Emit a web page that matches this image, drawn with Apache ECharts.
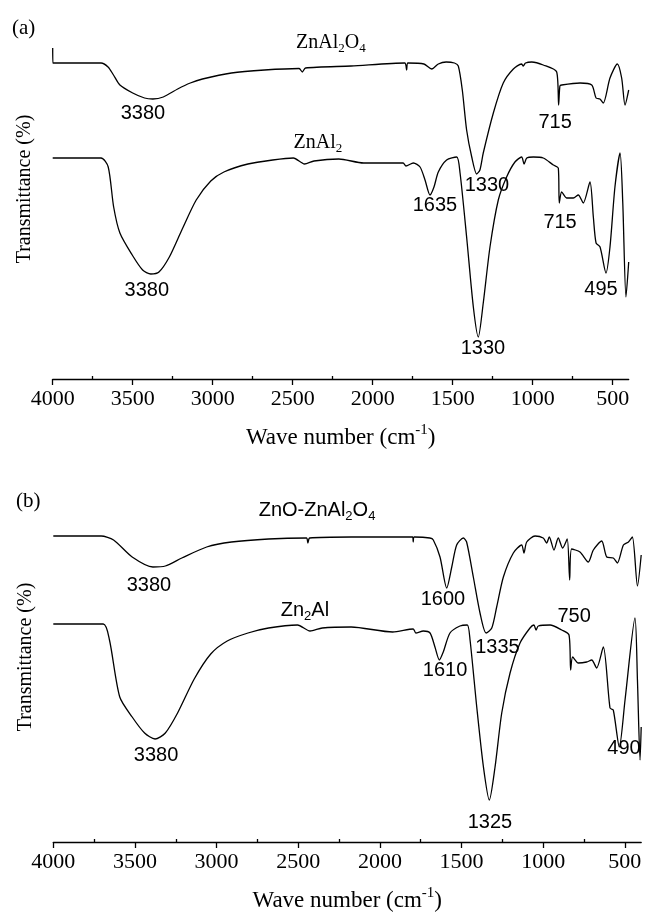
<!DOCTYPE html>
<html>
<head>
<meta charset="utf-8">
<script src="https://cdn.jsdelivr.net/npm/echarts@6/dist/echarts.min.js"></script>
<style>
  html, body { margin: 0; padding: 0; background: #fff; }
  #chart { width: 646px; height: 914px; }
</style>
</head>
<body>
<div id="chart"></div>
<script>
// FTIR spectra: wave number (cm-1) vs transmittance (arbitrary units, no scale shown)
const majorTicks = [4000, 3500, 3000, 2500, 2000, 1500, 1000, 500];
const minorTicks = [3750, 3250, 2750, 2250, 1750, 1250, 750];

// panel (a)
const znAl2O4 = [
    [4000, 331], [3999, 316], [3800, 316], [3698, 316], [3654, 312], [3620, 304], [3580, 294],
    [3500, 286], [3426, 281], [3374, 280], [3309, 282], [3219, 290], [3140, 296], [3064, 300],
    [2883, 306], [2676, 309], [2460, 310.5], [2440, 307], [2420, 311], [2135, 313], [1800, 316],
    [1788, 309], [1780, 316], [1680, 315], [1631, 310], [1590, 315], [1541, 317], [1489, 316],
    [1465, 313], [1440, 289], [1413, 249], [1381, 222], [1350, 205], [1330, 209], [1309, 226],
    [1246, 266], [1184, 296], [1121, 310], [1070, 315], [1059, 313], [1045, 316], [1006, 317],
    [934, 314], [850, 307], [838, 274], [830, 293], [819, 294], [704, 296], [631, 294],
    [604, 281], [580, 280], [559, 276], [517, 301], [471, 315], [444, 301], [423, 274], [400, 289]
];
const znAl2 = [
    [4000, 221], [3698, 221], [3653, 212], [3619, 172], [3580, 146], [3503, 124], [3438, 109],
    [3387, 105], [3336, 107], [3271, 122], [3193, 149], [3103, 179], [3012, 198], [2930, 207],
    [2780, 215], [2625, 219], [2496, 221], [2426, 215], [2367, 218], [2212, 220], [2057, 216],
    [1810, 216], [1792, 213], [1746, 216], [1704, 212], [1673, 199], [1642, 184], [1617, 192],
    [1590, 207], [1538, 219], [1475, 222], [1454, 206], [1413, 142], [1371, 72], [1340, 42],
    [1309, 76], [1267, 132], [1215, 179], [1163, 202], [1111, 217], [1069, 222], [1054, 215],
    [1037, 221], [996, 222], [934, 221], [871, 214], [840, 211], [834, 176], [819, 187],
    [788, 181], [746, 181], [715, 184], [684, 176], [642, 197], [621, 162], [604, 136],
    [579, 132], [542, 106], [517, 132], [486, 192], [454, 226], [437, 176], [417, 82], [400, 117]
];

// panel (b)
const znOZnAl2O4 = [
    [4000, 306], [3707, 306], [3631, 302], [3517, 285], [3390, 275], [3314, 276], [3213, 284],
    [3061, 295], [2909, 300], [2682, 303], [2450, 304], [2441, 299], [2430, 304], [2176, 305],
    [1800, 305], [1796, 300], [1790, 305], [1694, 304], [1673, 302], [1632, 285], [1591, 254],
    [1560, 275], [1530, 297], [1489, 304], [1469, 300], [1428, 265], [1387, 229], [1350, 209],
    [1315, 214], [1285, 235], [1244, 265], [1183, 289], [1132, 297], [1118, 289], [1101, 300],
    [1050, 306], [1000, 304], [979, 299], [963, 305], [934, 292], [908, 304], [881, 294],
    [853, 303], [838, 262], [826, 293], [775, 290], [724, 280], [693, 292], [642, 301],
    [611, 285], [571, 284], [546, 279], [509, 297], [478, 300], [454, 305], [423, 256], [400, 287]
];
const zn2Al = [
    [4000, 218], [3694, 218], [3656, 202], [3593, 145], [3517, 125], [3441, 109], [3377, 103],
    [3314, 109], [3239, 129], [3137, 163], [3036, 188], [2935, 201], [2808, 209], [2682, 214],
    [2505, 217], [2428, 211], [2353, 214], [2176, 215], [1922, 210], [1796, 213], [1780, 209],
    [1734, 211], [1693, 209], [1663, 195], [1636, 182], [1612, 190], [1571, 209], [1510, 216],
    [1465, 217], [1448, 202], [1407, 135], [1366, 75], [1330, 42], [1295, 75], [1254, 129],
    [1203, 169], [1142, 199], [1081, 214], [1057, 217], [1044, 212], [1030, 216], [958, 217],
    [887, 212], [842, 207], [832, 172], [820, 185], [785, 179], [734, 180], [703, 182],
    [673, 174], [632, 195], [591, 134], [571, 132], [534, 95], [499, 142], [438, 224],
    [423, 162], [407, 82], [400, 115]
];

// annotations: text, wave number, transmittance
const peaksA = [['3380', 3436, 266], ['715', 860, 257], ['1330', 1286, 194], ['1635', 1611, 174],
    ['715', 829, 157], ['495', 573, 90], ['3380', 3412, 89], ['1330', 1311, 31]];
const namesA = [['{n|ZnAl}{s|2}{n|O}{s|4}', 2261, 336], ['{n|ZnAl}{s|2}', 2342, 236]];
const peaksB = [['3380', 3414, 257], ['1600', 1614, 243], ['750', 811, 226], ['1335', 1280, 195],
    ['1610', 1601, 172], ['490', 505, 94], ['3380', 3371, 87], ['1325', 1326, 20]];
const namesB = [['{n|ZnO-ZnAl}{s|2}{n|O}{s|4}', 2385, 332], ['{n|Zn}{s|2}{n|Al}', 2459, 232]];

const serif = 'Liberation Serif';
const sans = 'Liberation Sans';

function xAxes(gridIndex) {
    return [{
        type: 'value', gridIndex: gridIndex, min: 400, max: 4000, inverse: true,
        axisLine: { show: true, onZero: false, lineStyle: { color: '#000', width: 1.3 } },
        axisTick: { show: true, customValues: majorTicks, length: 6, lineStyle: { color: '#000', width: 1.3 } },
        axisLabel: {
            customValues: majorTicks, margin: 9, formatter: v => String(v),
            fontFamily: serif, fontSize: 22, color: '#000'
        },
        splitLine: { show: false },
        name: '{t|Wave number (cm}{p|-1}{t|)}',
        nameLocation: 'middle',
        nameGap: 44,
        nameTextStyle: {
            rich: {
                t: { fontFamily: serif, fontSize: 23, color: '#000' },
                p: { fontFamily: serif, fontSize: 15, color: '#000', padding: [0, 0, 14, 0] }
            }
        }
    }, {
        type: 'value', gridIndex: gridIndex, min: 400, max: 4000, inverse: true,
        axisLine: { show: false },
        axisTick: { show: true, customValues: minorTicks, length: 3, lineStyle: { color: '#000', width: 1.3 } },
        axisLabel: { show: false },
        splitLine: { show: false }
    }];
}

function yAxis(gridIndex, shift) {
    return {
        type: 'value', gridIndex: gridIndex, min: 0, max: 350,
        axisLine: { show: false }, axisTick: { show: false }, axisLabel: { show: false },
        splitLine: { show: false },
        name: 'Transmittance (%)', nameLocation: 'middle', nameGap: 18,
        nameTextStyle: { fontFamily: serif, fontSize: 20, color: '#000', padding: [0, 0, 0, shift] }
    };
}

function curve(data, xi, yi) {
    return {
        type: 'line', data: data, xAxisIndex: xi, yAxisIndex: yi,
        symbol: 'none', smooth: 0.25,
        lineStyle: { color: '#000', width: 1.3 }, silent: true
    };
}

function notes(list, xi, yi, font) {
    return {
        type: 'scatter', xAxisIndex: xi, yAxisIndex: yi, symbolSize: 1,
        itemStyle: { color: 'rgba(0,0,0,0)' }, silent: true,
        data: list.map(o => ({ name: o[0], value: [o[1], o[2]] })),
        label: {
            show: true, position: 'inside', formatter: p => p.name,
            fontFamily: font, fontSize: 20, color: '#000', opacity: 1,
            rich: {
                n: { fontFamily: font, fontSize: 20, color: '#000' },
                s: { fontFamily: font, fontSize: 13, color: '#000', padding: [12, 0, 0, 0] }
            }
        }
    };
}

const chart = echarts.init(document.getElementById('chart'));
chart.setOption({
    animation: false,
    backgroundColor: '#fff',
    title: [
        { text: '(a)', left: 7, top: 13, textStyle: { fontFamily: serif, fontSize: 21, fontWeight: 'normal', color: '#000' } },
        { text: '(b)', left: 11, top: 486, textStyle: { fontFamily: serif, fontSize: 21, fontWeight: 'normal', color: '#000' } }
    ],
    grid: [
        { left: 52.7, right: 17.3, top: 29, height: 350 },
        { left: 53.3, right: 4.8, top: 492, height: 350 }
    ],
    xAxis: xAxes(0).concat(xAxes(1)),
    yAxis: [yAxis(0, 30), yAxis(1, 20)],
    series: [
        curve(znAl2O4, 0, 0),
        curve(znAl2, 0, 0),
        curve(znOZnAl2O4, 2, 1),
        curve(zn2Al, 2, 1),
        notes(peaksA, 0, 0, sans),
        notes(namesA, 0, 0, serif),
        notes(peaksB, 2, 1, sans),
        notes(namesB, 2, 1, sans)
    ]
});
</script>
</body>
</html>
